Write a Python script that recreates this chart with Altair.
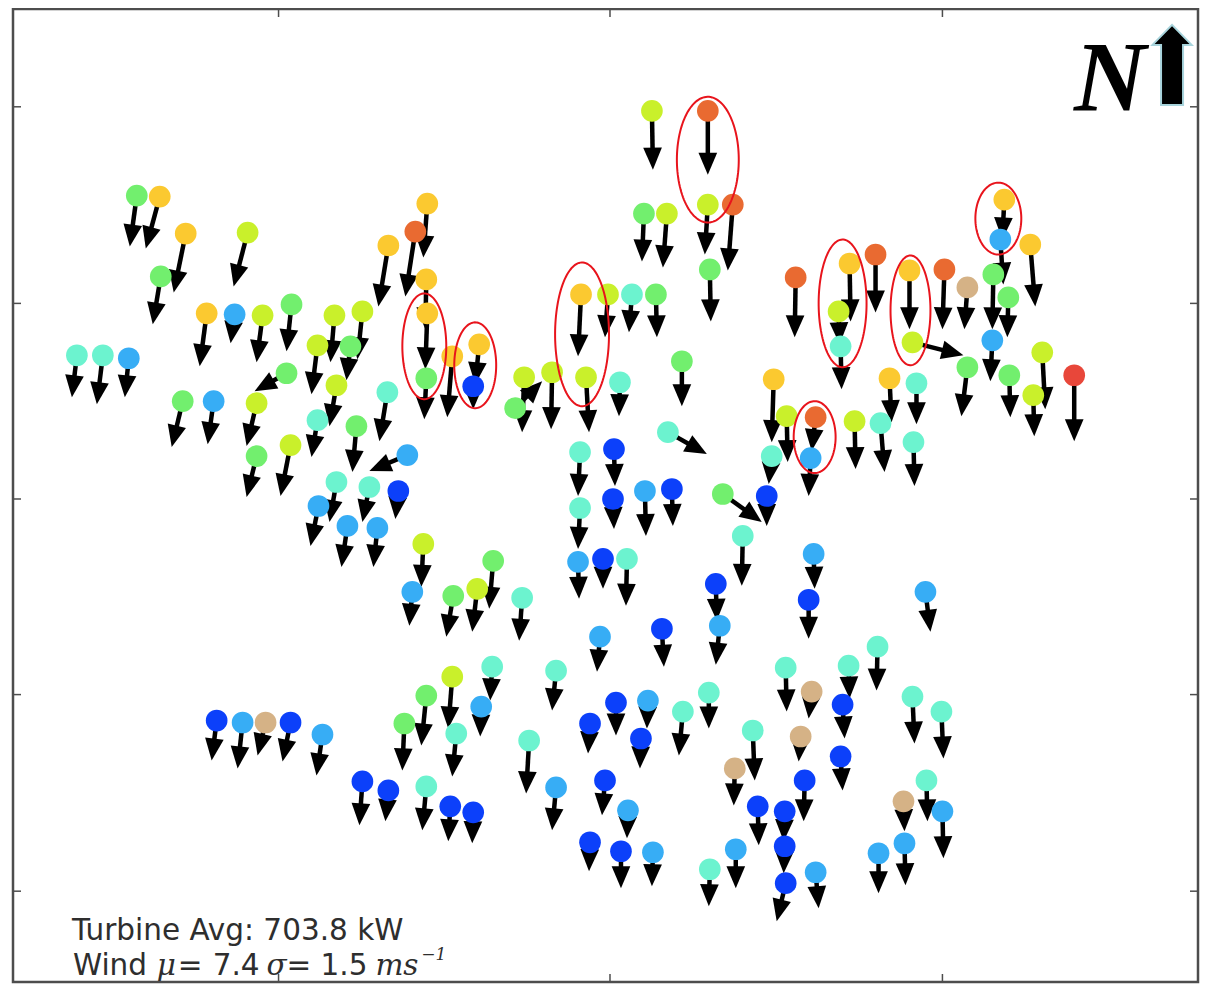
import altair as alt
import pandas as pd

# ---- turbine positions (same units as the frame), wind-arrow end points, power class ----
turbine_x = [
    653, 709, 645, 668, 709, 734, 711,
    137, 160, 186, 248, 161, 389, 428, 416, 427, 428, 427, 453, 480, 474,
    207, 235, 263, 292, 335, 363, 318, 351, 337, 318, 357, 388, 287, 257, 257, 291, 183, 214, 77, 103, 129, 408, 337, 370, 399, 319, 348, 378,
    582, 609, 633, 657, 525, 516, 553, 587, 621, 683, 669,
    797, 851, 840, 842, 877, 911, 914, 946, 969, 1006, 1002, 995, 1010, 1032, 994, 969, 1011, 1044, 1035, 1076, 891, 918, 817, 812, 856, 882, 915, 775, 788, 773, 768, 724, 744,
    581, 615, 614, 646, 673, 581, 579, 604, 628, 424, 413, 454, 478, 494, 523, 717, 721, 663, 601, 815, 810, 927,
    217, 243, 266, 291, 323, 363, 389, 405, 427, 453, 493, 482, 457, 427, 451, 474, 530, 557, 557, 591, 617, 649, 642, 684, 710, 606, 629, 591, 622, 654, 754, 736, 759, 786, 786, 787, 737, 711, 787, 802, 806, 850, 813, 844, 842, 914, 943, 928, 905, 944, 906, 880, 817, 879,
]
turbine_y = [
    111, 111, 214, 214, 205, 205, 270,
    196, 197, 234, 233, 277, 246, 204, 232, 280, 314, 379, 357, 345, 387,
    314, 315, 316, 305, 316, 312, 346, 347, 386, 421, 427, 393, 374, 404, 457, 446, 402, 402, 356, 356, 359, 456, 483, 488, 492, 507, 527, 529,
    295, 295, 295, 295, 378, 409, 373, 378, 383, 362, 433,
    278, 264, 312, 347, 255, 271, 343, 270, 288, 200, 240, 275, 298, 245, 341, 368, 376, 353, 396, 376, 379, 384, 418, 459, 422, 424, 443, 380, 417, 457, 497, 495, 537,
    453, 450, 500, 492, 490, 509, 563, 560, 560, 545, 593, 597, 590, 562, 599, 585, 627, 630, 638, 555, 601, 593,
    722, 724, 724, 724, 736, 783, 792, 725, 697, 678, 668, 708, 735, 788, 808, 814, 742, 789, 672, 725, 704, 702, 740, 713, 694, 782, 812, 844, 853, 854, 732, 770, 808, 813, 848, 885, 851, 871, 669, 738, 782, 667, 693, 706, 758, 698, 713, 782, 803, 813, 845, 855, 874, 648,
]
arrow_end_x = [
    654, 709, 643, 664, 706, 729, 712,
    130, 146, 174, 234, 153, 379, 424, 406, 426, 426, 425, 448, 476, 474,
    200, 231, 257, 287, 331, 358, 312, 347, 330, 312, 353, 380, 255, 247, 247, 281, 172, 208, 72, 97, 125, 370, 330, 363, 396, 311, 342, 374,
    579, 606, 630, 658, 523, 543, 552, 590, 620, 683, 708,
    796, 852, 841, 843, 877, 911, 965, 944, 966, 1004, 1005, 994, 1009, 1037, 992, 963, 1012, 1047, 1036, 1076, 893, 918, 813, 810, 857, 886, 916, 773, 789, 770, 768, 763, 743,
    579, 616, 615, 647, 674, 579, 580, 604, 627, 422, 410, 447, 473, 490, 520, 718, 717, 665, 598, 816, 810, 932,
    212, 238, 258, 283, 317, 360, 386, 403, 422, 449, 491, 481, 453, 423, 449, 473, 527, 553, 553, 589, 617, 648, 641, 680, 710, 603, 628, 590, 622, 653, 756, 735, 760, 785, 785, 778, 737, 710, 788, 800, 805, 851, 810, 846, 844, 916, 945, 929, 906, 945, 907, 880, 820, 878,
]
arrow_end_y = [
    170, 175, 262, 268, 255, 271, 322,
    247, 249, 293, 287, 325, 307, 258, 297, 330, 370, 420, 418, 385, 410,
    367, 344, 363, 352, 363, 360, 395, 381, 427, 458, 473, 442, 392, 447, 498, 497, 448, 445, 398, 405, 398, 472, 523, 523, 520, 547, 568, 568,
    357, 338, 333, 338, 433, 382, 430, 433, 417, 407, 455,
    338, 322, 345, 390, 313, 330, 356, 330, 330, 240, 285, 330, 338, 307, 382, 417, 418, 410, 437, 442, 423, 425, 452, 497, 470, 473, 487, 443, 463, 485, 527, 523, 587,
    497, 487, 530, 537, 527, 550, 600, 590, 607, 588, 627, 638, 633, 610, 642, 622, 666, 668, 673, 590, 640, 633,
    762, 770, 757, 763, 777, 827, 823, 772, 747, 730, 702, 738, 778, 832, 843, 845, 795, 832, 712, 755, 737, 730, 770, 757, 730, 817, 840, 873, 890, 888, 782, 807, 847, 843, 875, 923, 890, 908, 713, 763, 823, 700, 720, 740, 792, 745, 760, 823, 833, 860, 887, 895, 910, 692,
]
power_class = [
    "YG", "OR", "GR", "YG", "YG", "OR", "GR",
    "GR", "GD", "GD", "YG", "GR", "GD", "GD", "OR", "GD", "GD", "GR", "GD", "GD", "DB",
    "GD", "LB", "YG", "GR", "YG", "YG", "YG", "GR", "YG", "AQ", "GR", "AQ", "GR", "YG", "GR", "YG", "GR", "LB", "AQ", "AQ", "LB", "LB", "AQ", "AQ", "DB", "LB", "LB", "LB",
    "GD", "YG", "AQ", "GR", "YG", "GR", "YG", "YG", "AQ", "GR", "AQ",
    "OR", "GD", "YG", "AQ", "OR", "GD", "YG", "OR", "TN", "GD", "LB", "GR", "GR", "GD", "LB", "GR", "GR", "YG", "YG", "RD", "GD", "AQ", "OR", "LB", "YG", "AQ", "AQ", "GD", "YG", "AQ", "DB", "GR", "AQ",
    "AQ", "DB", "DB", "LB", "DB", "AQ", "LB", "DB", "AQ", "YG", "LB", "GR", "YG", "GR", "AQ", "DB", "LB", "DB", "LB", "LB", "DB", "LB",
    "DB", "LB", "TN", "DB", "LB", "DB", "DB", "GR", "GR", "YG", "AQ", "LB", "AQ", "AQ", "DB", "DB", "AQ", "LB", "AQ", "DB", "DB", "LB", "DB", "AQ", "AQ", "DB", "LB", "DB", "DB", "LB", "AQ", "TN", "DB", "DB", "DB", "DB", "LB", "AQ", "AQ", "TN", "DB", "AQ", "TN", "DB", "DB", "AQ", "AQ", "AQ", "TN", "LB", "LB", "LB", "LB", "AQ",
]

class_names = ["DB", "LB", "AQ", "GR", "YG", "GD", "OR", "RD", "TN"]
class_colors = ["#0c40fa", "#37adf5", "#6cf3cf", "#72ef6e", "#c9f02b", "#fbc930", "#e96a31", "#e8473a", "#d5b286"]

# highlighted groups (red ellipses)
ellipse_x = [709, 425, 476, 583, 844, 912, 816, 1000]
ellipse_y = [160, 347, 366, 335, 304, 311, 438, 219]
ellipse_rx = [31, 22, 21, 27, 24, 20, 21, 23]
ellipse_ry = [63, 53, 43, 72, 64, 55, 36, 36]

x_ticks = [279, 611, 944]
y_ticks = [107, 304, 500, 696, 893]

turbines = pd.DataFrame({
    "x": turbine_x, "y": turbine_y,
    "ex": arrow_end_x, "ey": arrow_end_y,
    "power": power_class,
})
ellipses = pd.DataFrame({"id": list(range(len(ellipse_x))), "cx": ellipse_x, "cy": ellipse_y,
                         "rx": ellipse_rx, "ry": ellipse_ry})

W, H = 1185, 973
xs = alt.Scale(domain=[13, 1200], nice=False, zero=False)
ys = alt.Scale(domain=[9, 984], nice=False, zero=False, reverse=True)

def X(f):
    return alt.X(f, type="quantitative", scale=xs, axis=None)

def Y(f):
    return alt.Y(f, type="quantitative", scale=ys, axis=None)

arrow_base = alt.Chart(turbines).transform_calculate(
    dx="datum.ex - datum.x", dy="datum.ey - datum.y"
).transform_calculate(
    L="max(sqrt(datum.dx*datum.dx + datum.dy*datum.dy), 0.001)"
).transform_calculate(
    hx="datum.ex - 11*datum.dx/datum.L",
    hy="datum.ey - 11*datum.dy/datum.L",
    ang="(atan2(datum.dx, -datum.dy)*180/PI + 360) % 360",
)

shafts = arrow_base.mark_rule(color="black", strokeWidth=4.5).encode(
    x=X("x"), y=Y("y"), x2="hx:Q", y2="hy:Q"
)
heads = arrow_base.mark_point(
    shape="M0,-1L0.85,1L-0.85,1Z", filled=True, size=484, color="black", opacity=1, strokeWidth=0
).encode(
    x=X("hx"), y=Y("hy"), angle=alt.Angle("ang:Q", scale=None)
)

dots = alt.Chart(turbines).mark_circle(size=470, opacity=1).encode(
    x=X("x"), y=Y("y"),
    color=alt.Color("power:N", scale=alt.Scale(domain=class_names, range=class_colors), legend=None),
)

rings = alt.Chart(ellipses).transform_calculate(
    t="sequence(0, 6.36, 0.05)"
).transform_flatten(["t"]).transform_calculate(
    px="datum.cx + datum.rx*cos(datum.t)",
    py="datum.cy + datum.ry*sin(datum.t)",
).mark_line(color="#e8141c", strokeWidth=2).encode(
    x=X("px"), y=Y("py"), detail="id:N", order="t:Q"
)

tick_color = "#4d4d4d"
left_ticks = alt.Chart(pd.DataFrame({"v": y_ticks})).mark_rule(color=tick_color, strokeWidth=1.5).encode(
    y=Y("v"), x=alt.value(0), x2=alt.value(8))
right_ticks = alt.Chart(pd.DataFrame({"v": y_ticks})).mark_rule(color=tick_color, strokeWidth=1.5).encode(
    y=Y("v"), x=alt.value(W - 8), x2=alt.value(W))
top_ticks = alt.Chart(pd.DataFrame({"v": x_ticks})).mark_rule(color=tick_color, strokeWidth=1.5).encode(
    x=X("v"), y=alt.value(0), y2=alt.value(8))
bottom_ticks = alt.Chart(pd.DataFrame({"v": x_ticks})).mark_rule(color=tick_color, strokeWidth=1.5).encode(
    x=X("v"), y=alt.value(H - 8), y2=alt.value(H))

# ---- text annotations ----
txt_color = "#2e2e2e"
def label(text, x, y, size=29.5, font="DejaVu Sans", style="normal", weight="normal", align="left", color=txt_color):
    return alt.Chart(pd.DataFrame({"t": [text], "x": [x], "y": [y]})).mark_text(
        align=align, baseline="alphabetic", fontSize=size, font=font, fontStyle=style,
        fontWeight=weight, color=color
    ).encode(x=X("x"), y=Y("y"), text="t:N")

texts = [
    label("Turbine Avg: 703.8 kW", 72, 942),
    label("Wind", 73, 977),
    label("\u03bc", 157, 977, font="DejaVu Serif", style="italic"),
    label("=", 178, 977),
    label("7.4", 213, 977),
    label("\u03c3", 267, 977, font="DejaVu Serif", style="italic"),
    label("=", 287, 977),
    label("1.5", 321, 977),
    label("ms", 376, 977, font="DejaVu Serif", style="italic"),
    label("\u22121", 422, 962, size=17, font="DejaVu Serif", style="italic"),
    label("N", 1112, 110, size=100, font="Liberation Serif", style="italic", weight="bold", align="center", color="black"),
]

north_arrow = alt.Chart(pd.DataFrame({"x": [1174], "y": [65]})).mark_point(
    shape="M-0.275,1L-0.275,-0.5L-0.49,-0.5L0,-1L0.49,-0.5L0.275,-0.5L0.275,1Z",
    filled=True, size=6400, color="black", opacity=1, stroke="#a8d4dc", strokeWidth=2,
).encode(x=X("x"), y=Y("y"))

chart = alt.layer(
    shafts, heads, dots, rings,
    left_ticks, right_ticks, top_ticks, bottom_ticks,
    *texts, north_arrow,
).properties(
    width=W, height=H,
    padding={"left": 5, "top": 1, "right": 2, "bottom": 2},
    autosize=alt.AutoSizeParams(type="none"),
    background="white",
).configure_view(stroke="#4d4d4d", strokeWidth=2.5)

chart.save("out.html", embed_options={"renderer": "svg", "actions": False})
